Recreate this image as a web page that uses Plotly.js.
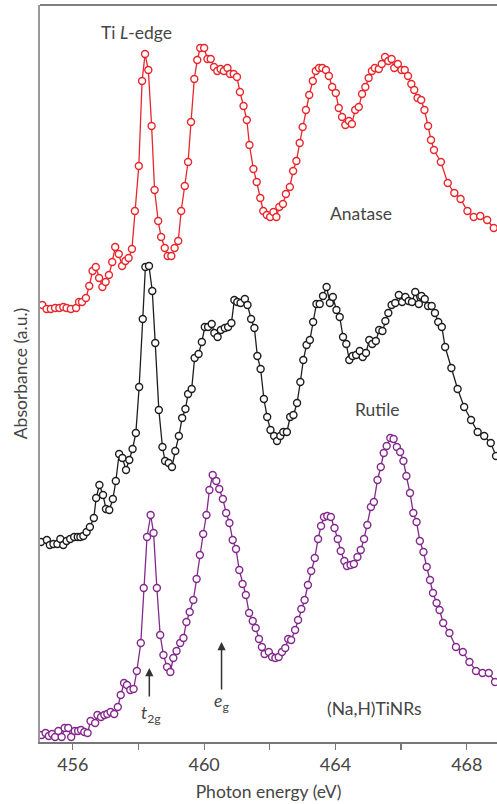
<!DOCTYPE html>
<html>
<head>
<meta charset="utf-8">
<script src="https://cdn.plot.ly/plotly-3.0.1.min.js"></script>
<style>html,body{margin:0;padding:0;background:#fff;}#chart{width:497px;height:804px;}</style>
</head>
<body>
<div id="chart"></div>
<script>
// Photon energy (eV) and absorbance (a.u., offset stacked)
const anataseE = [455.07,455.20,455.33,455.46,455.59,455.71,455.81,455.94,456.10,456.19,456.28,456.40,456.50,456.60,456.70,456.80,456.90,457.00,457.10,457.20,457.29,457.40,457.50,457.60,457.70,457.80,457.89,458.01,458.11,458.20,458.30,458.40,458.49,458.60,458.69,458.80,458.89,459.00,459.10,459.21,459.30,459.41,459.51,459.60,459.70,459.79,459.88,460.00,460.10,460.20,460.30,460.40,460.50,460.60,460.71,460.79,460.90,461.00,461.09,461.20,461.30,461.38,461.50,461.60,461.71,461.80,461.91,462.01,462.11,462.20,462.29,462.40,462.49,462.61,462.71,462.81,462.91,463.00,463.10,463.20,463.31,463.40,463.50,463.60,463.71,463.80,463.90,464.01,464.10,464.20,464.30,464.41,464.50,464.60,464.71,464.81,464.91,465.01,465.11,465.20,465.32,465.41,465.51,465.61,465.71,465.79,465.90,466.01,466.11,466.21,466.31,466.40,466.50,466.61,466.71,466.82,466.91,467.00,467.21,467.42,467.62,467.81,468.02,468.21,468.41,468.62,468.82];
const anataseA = [4.37,4.33,4.33,4.34,4.34,4.35,4.34,4.33,4.34,4.40,4.40,4.44,4.56,4.71,4.75,4.64,4.55,4.60,4.67,4.80,4.95,4.88,4.76,4.81,4.84,4.93,5.31,5.76,6.61,6.88,6.72,6.16,5.52,5.21,5.05,4.94,4.86,4.86,4.94,5.01,5.31,5.56,5.80,6.20,6.63,6.82,6.94,6.94,6.83,6.83,6.75,6.71,6.73,6.71,6.74,6.68,6.68,6.65,6.50,6.36,6.22,5.97,5.73,5.60,5.44,5.31,5.27,5.25,5.30,5.25,5.35,5.38,5.48,5.55,5.71,5.81,5.99,6.15,6.32,6.47,6.61,6.71,6.74,6.74,6.72,6.66,6.55,6.49,6.34,6.25,6.17,6.21,6.18,6.32,6.35,6.48,6.55,6.64,6.71,6.74,6.73,6.78,6.85,6.81,6.83,6.74,6.78,6.72,6.72,6.66,6.58,6.52,6.44,6.42,6.32,6.16,6.02,5.92,5.80,5.59,5.49,5.43,5.31,5.25,5.26,5.22,5.14];

const rutileE = [455.03,455.21,455.30,455.41,455.53,455.62,455.71,455.81,455.92,456.04,456.15,456.23,456.32,456.42,456.52,456.64,456.71,456.81,456.92,457.01,457.11,457.22,457.31,457.41,457.51,457.62,457.72,457.82,457.92,458.02,458.13,458.21,458.32,458.42,458.51,458.62,458.73,458.81,458.92,459.02,459.12,459.23,459.33,459.43,459.51,459.62,459.71,459.83,459.93,460.02,460.12,460.23,460.31,460.41,460.51,460.63,460.73,460.83,460.92,461.01,461.11,461.24,461.32,461.43,461.53,461.62,461.72,461.82,461.92,462.02,462.13,462.22,462.32,462.41,462.52,462.62,462.72,462.83,462.93,463.02,463.12,463.22,463.32,463.42,463.52,463.62,463.73,463.83,463.92,464.03,464.13,464.23,464.33,464.42,464.52,464.63,464.74,464.83,464.93,465.03,465.12,465.23,465.33,465.43,465.52,465.61,465.71,465.82,465.93,466.03,466.13,466.23,466.33,466.43,466.54,466.62,466.72,466.82,466.93,467.03,467.13,467.24,467.34,467.53,467.72,467.92,468.13,468.33,468.53,468.73,468.89];
const rutileA = [2.00,2.02,1.97,1.98,1.98,2.03,1.97,2.01,2.03,2.05,2.05,2.05,2.06,2.10,2.15,2.24,2.44,2.57,2.47,2.33,2.32,2.43,2.61,2.88,2.84,2.72,2.82,2.93,3.09,3.55,4.23,4.75,4.76,4.51,3.99,3.32,2.95,2.81,2.79,2.75,2.91,3.06,3.24,3.33,3.48,3.53,3.84,3.88,4.00,4.15,4.15,4.18,4.09,4.05,4.12,4.14,4.15,4.19,4.42,4.40,4.39,4.43,4.37,4.23,4.14,3.86,3.73,3.43,3.25,3.12,3.06,3.01,3.06,3.10,3.10,3.25,3.27,3.39,3.60,3.82,3.97,4.02,4.20,4.38,4.38,4.46,4.55,4.39,4.45,4.32,4.25,4.05,3.98,3.82,3.86,3.87,3.91,3.85,3.89,4.02,3.98,4.01,4.12,4.11,4.21,4.29,4.37,4.39,4.47,4.40,4.45,4.41,4.40,4.50,4.38,4.46,4.43,4.36,4.36,4.29,4.20,4.15,3.95,3.74,3.53,3.35,3.22,3.10,3.06,2.99,2.86];

const tinrE = [455.05,455.17,455.27,455.37,455.46,455.56,455.66,455.75,455.86,455.95,456.06,456.16,456.25,456.35,456.45,456.54,456.68,456.75,456.86,456.96,457.05,457.15,457.26,457.37,457.46,457.56,457.65,457.75,457.85,457.95,458.07,458.16,458.26,458.37,458.46,458.56,458.66,458.76,458.87,458.97,459.06,459.16,459.27,459.37,459.46,459.56,459.67,459.77,459.87,459.97,460.07,460.16,460.26,460.37,460.46,460.57,460.67,460.77,460.87,460.97,461.07,461.17,461.27,461.37,461.48,461.57,461.67,461.76,461.84,461.97,462.07,462.17,462.27,462.37,462.47,462.56,462.65,462.77,462.86,462.96,463.06,463.16,463.26,463.37,463.47,463.56,463.65,463.75,463.86,463.97,464.07,464.16,464.27,464.35,464.46,464.56,464.67,464.77,464.87,464.97,465.08,465.17,465.28,465.38,465.47,465.56,465.67,465.77,465.87,465.97,466.07,466.16,466.27,466.37,466.47,466.57,466.68,466.78,466.88,466.97,467.08,467.17,467.28,467.47,467.67,467.88,468.08,468.28,468.48,468.67,468.86];
const tinrA = [0.07,0.09,0.06,0.08,0.05,0.11,0.05,0.14,0.14,0.05,0.11,0.11,0.12,0.10,0.09,0.21,0.19,0.27,0.25,0.27,0.28,0.30,0.28,0.35,0.47,0.59,0.57,0.52,0.53,0.71,0.99,1.54,2.05,2.27,2.09,1.54,1.07,0.87,0.75,0.70,0.84,0.91,0.99,1.04,1.20,1.30,1.42,1.63,1.87,2.08,2.27,2.52,2.67,2.61,2.53,2.43,2.29,2.19,2.02,1.93,1.72,1.58,1.47,1.29,1.21,1.14,1.03,0.95,0.88,0.90,0.85,0.84,0.85,0.90,0.94,1.03,1.02,1.12,1.22,1.33,1.42,1.57,1.71,1.84,2.03,2.16,2.25,2.26,2.25,2.14,2.03,1.91,1.81,1.76,1.77,1.78,1.85,1.92,2.03,2.17,2.35,2.40,2.62,2.75,2.89,2.96,3.04,3.03,2.95,2.90,2.81,2.66,2.49,2.29,2.20,2.01,1.90,1.75,1.62,1.49,1.39,1.32,1.19,1.09,0.95,0.90,0.80,0.71,0.69,0.69,0.60];

const majorTicks = [456,460,464,468];

const FONT = 'Lato, "Open Sans", sans-serif';
const TXT = '#454545';
const FS = 17.5;

function series(x, y, color, name) {
  return {
    x: x, y: y, name: name, type: 'scatter', mode: 'lines+markers',
    line: {color: color, width: 1.3},
    marker: {symbol: 'circle', size: 7, color: '#ffffff', line: {color: color, width: 1.4}},
    hoverinfo: 'x+y'
  };
}

const data = [
  series(anataseE, anataseA, '#e8262c', 'Anatase'),
  series(rutileE, rutileA, '#1e1e1e', 'Rutile'),
  series(tinrE, tinrA, '#83288c', '(Na,H)TiNRs')
];

function label(x, y, text) {
  return {x: x, y: y, xref: 'x', yref: 'y', text: text, showarrow: false,
          font: {family: FONT, size: FS, color: TXT}, xanchor: 'center', yanchor: 'middle'};
}
function arrow(x, y0, y1) {
  return {x: x, y: y1, ax: x, ay: y0, xref: 'x', yref: 'y', axref: 'x', ayref: 'y',
          text: '', showarrow: true, arrowhead: 2, arrowsize: 1.1, arrowwidth: 1.5, arrowcolor: '#333'};
}

const layout = {
  width: 497, height: 804,
  margin: {l: 40, r: 0, t: 5, b: 62},
  paper_bgcolor: '#fff', plot_bgcolor: '#fff',
  showlegend: false,
  font: {family: FONT, size: FS, color: TXT},
  xaxis: {
    range: [455, 468.92], tickvals: majorTicks,
    ticks: 'outside', ticklen: 6, tickwidth: 1.3, tickcolor: '#777',
    minor: {tick0: 456, dtick: 2, ticks: 'outside', ticklen: 6, tickwidth: 1.3, tickcolor: '#777', showgrid: false},
    showline: true, linecolor: '#777', linewidth: 1.5,
    showgrid: false, zeroline: false,
    tickfont: {family: FONT, size: 18, color: TXT},
    title: {text: 'Photon energy (eV)', font: {family: FONT, size: FS, color: TXT}, standoff: 11}
  },
  yaxis: {
    range: [0, 7.37], showticklabels: false, ticks: '',
    showline: true, linecolor: '#999', linewidth: 2,
    showgrid: false, zeroline: false,
    title: {text: 'Absorbance (a.u.)', font: {family: FONT, size: FS, color: TXT}, standoff: 6}
  },
  shapes: [
    {type: 'line', xref: 'paper', yref: 'paper', x0: 0, x1: 1, y0: 1, y1: 1, line: {color: '#555', width: 1.5}}
  ],
  annotations: [
    label(457.95, 7.10, 'Ti <i>L</i>-edge'),
    label(464.78, 5.29, 'Anatase'),
    label(465.29, 3.33, 'Rutile'),
    label(465.18, 0.34, '(Na,H)TiNRs'),
    label(458.37, 0.28, '<i>t</i><sub>2g</sub>'),
    label(460.54, 0.40, '<i>e</i><sub>g</sub>'),
    arrow(458.33, 0.44, 0.74),
    arrow(460.53, 0.51, 1.00)
  ]
};

Plotly.newPlot('chart', data, layout, {displayModeBar: false, staticPlot: true});
</script>
</body>
</html>
